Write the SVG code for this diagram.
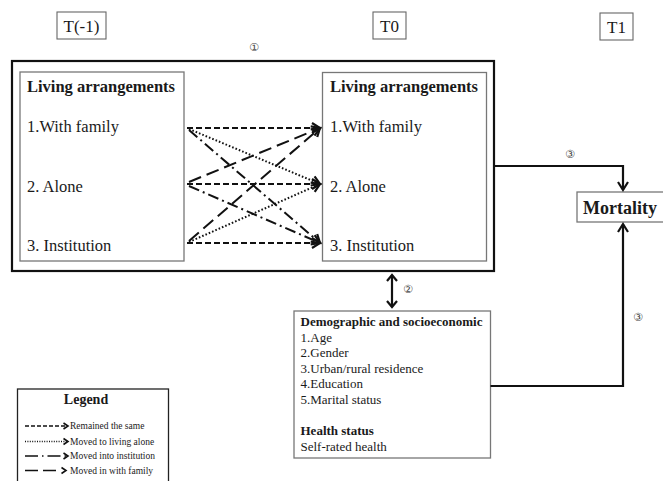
<svg xmlns="http://www.w3.org/2000/svg" width="663" height="481" viewBox="0 0 663 481">
  <defs>
    <marker id="ah" markerUnits="userSpaceOnUse" markerWidth="12" markerHeight="12" refX="9" refY="5" orient="auto" overflow="visible">
      <path d="M1,0 L9,5 L1,10" fill="none" stroke="#111" stroke-width="2.2" stroke-linejoin="miter"/>
    </marker>
    <marker id="ahs" markerUnits="userSpaceOnUse" markerWidth="8" markerHeight="8" refX="5" refY="3" orient="auto" overflow="visible">
      <path d="M0.5,0 L5,3 L0.5,6" fill="none" stroke="#111" stroke-width="1.6"/>
    </marker>
    <marker id="ahb" markerUnits="userSpaceOnUse" markerWidth="12" markerHeight="12" refX="6" refY="5" orient="auto-start-reverse" overflow="visible">
      <path d="M0,0 L6,5 L0,10" fill="none" stroke="#111" stroke-width="2.2"/>
    </marker>
  </defs>
  <style>
    text { font-family: "Liberation Serif", "Times New Roman", serif; fill: #1a1a1a; }
    .gbox { fill: #fff; stroke: #777; stroke-width: 1.3; }
    .tbox { fill: #fff; stroke: #666; stroke-width: 1.1; }
    .big { font-size: 16.5px; }
    .bigb { font-size: 16.5px; font-weight: bold; }
    .t { font-size: 17px; }
    .mid { font-size: 13px; }
    .midb { font-size: 13px; font-weight: bold; }
    .leg { font-size: 9.5px; }
    .circ { font-family: "DejaVu Sans", "Noto Sans CJK JP", sans-serif; font-size: 11px; fill: #444; }
    .tr { fill: none; stroke: #111; stroke-width: 2; marker-end: url(#ah); }
    .same { stroke-dasharray: 6 3; }
    .dot { stroke-dasharray: 1.6 2; }
    .dd { stroke-dasharray: 11 4 2 4; }
    .ld { stroke-dasharray: 13 6; }
    .conn { fill: none; stroke: #111; stroke-width: 2.2; }
    .lg { fill: none; stroke: #111; stroke-width: 1.3; marker-end: url(#ahs); }
  </style>

  <g id="time-labels">
    <g id="t-minus1"><rect class="tbox" x="57" y="12" width="49" height="27"/><text class="t" x="81.5" y="32" text-anchor="middle">T(-1)</text></g>
    <g id="t0"><rect class="tbox" x="373" y="12" width="33" height="27"/><text class="t" x="389.5" y="32" text-anchor="middle">T0</text></g>
    <g id="t1"><rect class="tbox" x="600" y="13" width="33" height="27"/><text class="t" x="616.5" y="33" text-anchor="middle">T1</text></g>
  </g>

  <g id="outer-box">
    <rect x="12" y="61" width="482" height="210" fill="none" stroke="#111" stroke-width="2.2"/>
    <text class="circ" x="254" y="51" text-anchor="middle">①</text>
  </g>

  <g id="la-before">
    <rect class="gbox" x="20" y="72" width="164" height="189"/>
    <text class="bigb" x="27" y="92">Living arrangements</text>
    <text class="big" x="27" y="132">1.With family</text>
    <text class="big" x="27" y="192">2. Alone</text>
    <text class="big" x="27" y="251">3. Institution</text>
  </g>

  <g id="la-after">
    <rect class="gbox" x="322.5" y="72.5" width="164" height="188.5"/>
    <text class="bigb" x="330" y="92">Living arrangements</text>
    <text class="big" x="330" y="132">1.With family</text>
    <text class="big" x="330" y="192">2. Alone</text>
    <text class="big" x="330" y="251">3. Institution</text>
  </g>

  <g id="mortality">
    <rect class="gbox" x="577" y="192" width="90" height="30"/>
    <text x="583" y="214" style="font-size:18px;font-weight:bold">Mortality</text>
  </g>

  <g id="covariates">
    <rect class="gbox" x="294" y="311" width="196.5" height="147"/>
    <text class="midb" x="300.5" y="326">Demographic and socioeconomic</text>
    <text class="mid" x="300.5" y="341.5">1.Age</text>
    <text class="mid" x="300.5" y="357">2.Gender</text>
    <text class="mid" x="300.5" y="372.5">3.Urban/rural residence</text>
    <text class="mid" x="300.5" y="388">4.Education</text>
    <text class="mid" x="300.5" y="403.5">5.Marital status</text>
    <text class="midb" x="300.5" y="435">Health status</text>
    <text class="mid" x="300.5" y="450.5">Self-rated health</text>
  </g>

  <g id="connectors">
    <line class="tr same" x1="187" y1="128" x2="320" y2="128"/>
    <line class="tr same" x1="187" y1="184" x2="320" y2="184"/>
    <line class="tr same" x1="187" y1="243" x2="320" y2="243"/>
    <line class="tr dot" x1="189" y1="129" x2="320" y2="184"/>
    <line class="tr dot" x1="189" y1="242" x2="320" y2="184"/>
    <line class="tr dd" x1="189" y1="130" x2="320" y2="243"/>
    <line class="tr dd" x1="189" y1="186" x2="320" y2="243"/>
    <line class="tr ld" x1="189" y1="182" x2="320" y2="128"/>
    <line class="tr ld" x1="189" y1="241" x2="320" y2="128"/>

    <polyline class="conn" points="494,166 623,166 623,190" marker-end="url(#ah)"/>
    <text class="circ" x="570" y="158" text-anchor="middle">③</text>
    <polyline class="conn" points="490.5,386 623,386 623,224" marker-end="url(#ah)"/>
    <text class="circ" x="638" y="321" text-anchor="middle">③</text>
    <line class="conn" x1="392" y1="275" x2="392" y2="307" marker-start="url(#ahb)" marker-end="url(#ahb)"/>
    <text class="circ" x="408" y="293" text-anchor="middle">②</text>
  </g>

  <g id="legend">
    <rect x="17.5" y="389" width="151" height="100" fill="#fff" stroke="#222" stroke-width="1.3"/>
    <text x="86" y="404" text-anchor="middle" style="font-size:14px;font-weight:bold">Legend</text>
    <line class="lg" x1="25" y1="426" x2="68" y2="426" stroke-dasharray="4 2"/>
    <text class="leg" x="70" y="429">Remained  the same</text>
    <line class="lg" x1="25" y1="441.5" x2="68" y2="441.5" stroke-dasharray="1 1.4"/>
    <text class="leg" x="70" y="444.5">Moved to living  alone</text>
    <line class="lg" x1="25" y1="456" x2="68" y2="456" stroke-dasharray="13 4 1.5 4"/>
    <text class="leg" x="70" y="459">Moved into institution</text>
    <line x1="25" y1="470.5" x2="57" y2="470.5" stroke="#111" stroke-width="1.3" stroke-dasharray="13 5"/>
    <path d="M61.5,467.5 L66,470.5 L61.5,473.5" fill="none" stroke="#111" stroke-width="1.6"/>
    <text class="leg" x="70" y="473.5">Moved in with family</text>
  </g>
</svg>
